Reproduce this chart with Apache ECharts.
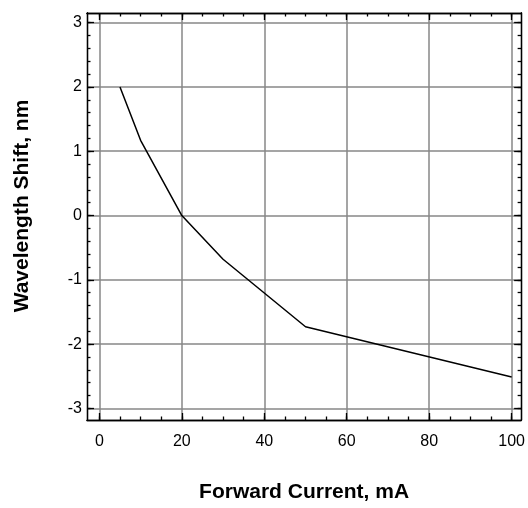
<!DOCTYPE html>
<html>
<head>
<meta charset="utf-8">
<script src="https://cdn.jsdelivr.net/npm/echarts@6/dist/echarts.min.js"></script>
<style>
html,body{margin:0;padding:0;background:#fff;}
#chart{width:528px;height:508px;}
</style>
</head>
<body>
<div id="chart"></div>
<script>
// Data
const currentMA = [5, 10, 20, 30, 50, 100];
const shiftNm = [2.0, 1.17, 0, -0.68, -1.73, -2.51];
// Ticks
const xMajorTicks = [0, 20, 40, 60, 80, 100];
const xMinorTicks = [0, 5, 10, 15, 20, 25, 30, 35, 40, 45, 50, 55, 60, 65, 70, 75, 80, 85, 90, 95, 100];
const yMajorTicks = [-3, -2, -1, 0, 1, 2, 3];
const yMinorTicks = [-3, -2.8, -2.6, -2.4, -2.2, -2, -1.8, -1.6, -1.4, -1.2, -1, -0.8, -0.6, -0.4, -0.2, 0,
  0.2, 0.4, 0.6, 0.8, 1, 1.2, 1.4, 1.6, 1.8, 2, 2.2, 2.4, 2.6, 2.8, 3];
const xTitle = 'Forward Current, mA';
const yTitle = 'Wavelength Shift, nm';

const X_MIN = -3, X_MAX = 102.3, Y_MIN = -3.18, Y_MAX = 3.15;
const FONT = '"Liberation Sans", Arial, sans-serif';

function xAxisDef(pos, major, withLabels) {
  return {
    type: 'value', position: pos, min: X_MIN, max: X_MAX, gridIndex: 0,
    axisLine: { show: true, onZero: false, lineStyle: { color: '#000', width: 1.3 } },
    axisTick: { show: true, inside: true, length: major ? 7 : 3.5, customValues: major ? xMajorTicks : xMinorTicks,
      lineStyle: { color: '#000', width: 1.3 } },
    axisLabel: { show: withLabels, customValues: xMajorTicks, color: '#000', fontSize: 16, fontFamily: FONT, margin: 14 },
    splitLine: { show: major && withLabels, lineStyle: { color: '#878787', width: 1.5 } },
    minorTick: { show: false }, minorSplitLine: { show: false },
    name: withLabels && major ? xTitle : '',
    nameLocation: 'middle', nameGap: 62,
    nameTextStyle: { color: '#000', fontSize: 21, fontWeight: 'bold', fontFamily: FONT }
  };
}
function yAxisDef(pos, major, withLabels) {
  return {
    type: 'value', position: pos, min: Y_MIN, max: Y_MAX, gridIndex: 0,
    axisLine: { show: true, onZero: false, lineStyle: { color: '#000', width: 1.3 } },
    axisTick: { show: true, inside: true, length: major ? 7 : 3.5, customValues: major ? yMajorTicks : yMinorTicks,
      lineStyle: { color: '#000', width: 1.3 } },
    axisLabel: { show: withLabels, customValues: yMajorTicks, color: '#000', fontSize: 16, fontFamily: FONT, margin: 5 },
    splitLine: { show: major && withLabels, lineStyle: { color: '#878787', width: 1.5 } },
    minorTick: { show: false }, minorSplitLine: { show: false },
    name: withLabels && major ? yTitle : '',
    nameLocation: 'middle', nameGap: 54, nameRotate: 90,
    nameTextStyle: { color: '#000', fontSize: 21, fontWeight: 'bold', fontFamily: FONT, padding: [0, 0, 0, 21] }
  };
}

const chart = echarts.init(document.getElementById('chart'), null, { renderer: 'canvas' });
chart.setOption({
  backgroundColor: '#fff',
  animation: false,
  grid: { left: 87, top: 13, width: 436, height: 408, containLabel: false, show: false },
  xAxis: [
    xAxisDef('bottom', true, true),
    xAxisDef('bottom', false, false),
    xAxisDef('top', true, false),
    xAxisDef('top', false, false)
  ],
  yAxis: [
    yAxisDef('left', true, true),
    yAxisDef('left', false, false),
    yAxisDef('right', true, false),
    yAxisDef('right', false, false)
  ],
  series: [{
    type: 'line',
    xAxisIndex: 0, yAxisIndex: 0,
    data: currentMA.map((x, i) => [x, shiftNm[i]]),
    showSymbol: false, symbol: 'none',
    lineStyle: { color: '#000', width: 1.5 },
    z: 5
  }]
});
</script>
</body>
</html>
